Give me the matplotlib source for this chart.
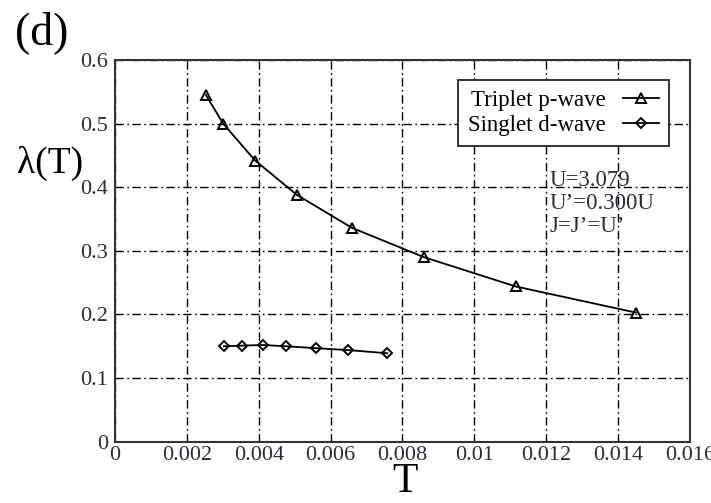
import matplotlib
matplotlib.use("Agg")
import matplotlib.pyplot as plt

plt.rcParams['font.family'] = ['Liberation Serif', 'DejaVu Serif']
plt.rcParams['mathtext.fontset'] = 'stix'

T_trip = [0.00253, 0.00301, 0.00390, 0.00506, 0.00660, 0.00860, 0.01115, 0.01449]
lam_trip = [0.545, 0.500, 0.442, 0.388, 0.336, 0.290, 0.244, 0.203]
T_sing = [0.00303, 0.00354, 0.00411, 0.00476, 0.00559, 0.00649, 0.00758]
lam_sing = [0.150, 0.151, 0.152, 0.150, 0.147, 0.144, 0.139]

xticks = [0, 0.002, 0.004, 0.006, 0.008, 0.01, 0.012, 0.014, 0.016]
xticklabels = ['0', '0.002', '0.004', '0.006', '0.008', '0.01', '0.012', '0.014', '0.016']
yticks = [0, 0.1, 0.2, 0.3, 0.4, 0.5, 0.6]
yticklabels = ['0', '0.1', '0.2', '0.3', '0.4', '0.5', '0.6']

fig = plt.figure(figsize=(7.11, 5.03), dpi=100)
ax = fig.add_axes([0.1617, 0.1219, 0.8088, 0.7588])

ax.plot(T_trip, lam_trip, color='black', lw=1.3, marker='^', ms=6.5, mfc='none',
        mec='black', mew=1.4, label='Triplet p-wave', zorder=3)
ax.plot(T_sing, lam_sing, color='black', lw=1.3, marker='D', ms=5.5, mfc='none',
        mec='black', mew=1.4, label='Singlet d-wave', zorder=3)

ax.set_xlim(0, 0.016)
ax.set_ylim(0, 0.6)
ax.set_xticks(xticks)
ax.set_xticklabels(xticklabels)
ax.set_yticks(yticks)
ax.set_yticklabels(yticklabels)
ax.tick_params(length=0, labelsize=16)
ax.tick_params(axis='x', pad=3)
ax.tick_params(axis='y', pad=5)
for lbl in ax.get_xticklabels() + ax.get_yticklabels():
    lbl.set_color('#2b2b3a')
ax.grid(True, color='black', lw=1.0, linestyle=(0, (6, 2.5, 1.2, 2.5)))
for s in ax.spines.values():
    s.set_linewidth(1.5)
    s.set_color('#333333')

leg = ax.legend(loc='upper right', bbox_to_anchor=(0.9635, 0.9476), markerfirst=False,
                fontsize=16.5, frameon=True, fancybox=False, edgecolor='#222222',
                framealpha=1, handlelength=1.6, borderpad=0.42, labelspacing=0.2,
                handletextpad=0.75, borderaxespad=0)
leg.get_frame().set_linewidth(1.3)

ax.text(0.7565, 0.712, "U=3.079\nU\u2019=0.300U\nJ=J\u2019=U\u2019", transform=ax.transAxes,
        fontsize=16.5, va='top', ha='left', linespacing=1.12, color='#2b2b3a')

fig.text(0.058, 0.936, "(d)", fontsize=33, ha='center', va='center')
fig.text(0.07, 0.676, "\u03bb(T)", fontsize=27, ha='center', va='center')
fig.text(0.57, 0.042, "T", fontsize=30, ha='center', va='center')

fig.savefig("out.png", dpi=100)
